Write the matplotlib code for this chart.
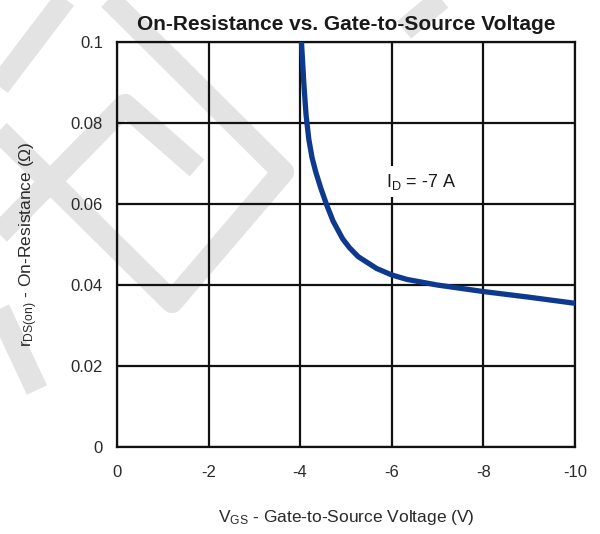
import matplotlib
matplotlib.use("Agg")
import matplotlib.pyplot as plt

# Data (I_D = -7 A)
vgs = [-4.03, -4.08, -4.13, -4.19, -4.26, -4.34, -4.45, -4.58, -4.72, -4.93,
       -5.08, -5.27, -5.67, -6.00, -6.33, -7.00, -8.00, -9.00, -10.0]
rds = [0.100, 0.090, 0.082, 0.076, 0.0715, 0.068, 0.064, 0.0598, 0.0558, 0.0514,
       0.0492, 0.0470, 0.0441, 0.0425, 0.0414, 0.0400, 0.0384, 0.0370, 0.0355]

x_ticks = [0, -2, -4, -6, -8, -10]
y_ticks = [0, 0.02, 0.04, 0.06, 0.08, 0.1]
y_tick_labels = ["0", "0.02", "0.04", "0.06", "0.08", "0.1"]

# light grey watermark strokes (figure pixels, y down)
watermark = [
    [(72, -10), (-10, 98)],
    [(100, -10), (283, 172), (172, 302), (-10, 122)],
    [(-10, 243), (125, 105), (197, 168)],
    [(-10, 290), (37, 390)],
    [(452, -10), (404, 30)],
]

plt.rcParams["font.family"] = ["Liberation Sans", "DejaVu Sans"]
plt.rcParams["mathtext.fontset"] = "custom"
plt.rcParams["mathtext.rm"] = "Liberation Sans"
plt.rcParams["mathtext.it"] = "Liberation Sans"

fig = plt.figure(figsize=(6.0, 5.34), dpi=100)

# background layer for the watermark
bg = fig.add_axes([0, 0, 1, 1], zorder=0)
bg.set_xlim(0, 600)
bg.set_ylim(534, 0)
bg.axis("off")
for path in watermark:
    xs = [p[0] for p in path]
    ys = [p[1] for p in path]
    bg.plot(xs, ys, color="#e3e3e3", lw=16, solid_joinstyle="round",
            solid_capstyle="butt")

ax = fig.add_axes([0.195, 0.163, 0.763, 0.758], zorder=1)
ax.set_facecolor("none")

ax.plot(vgs, rds, color="#0d3a8e", lw=3.8, zorder=3, solid_joinstyle="round")

ax.set_xlim(0, -10)
ax.set_ylim(0, 0.1)
ax.set_xticks(x_ticks)
ax.set_xticklabels([str(t) for t in x_ticks])
ax.set_yticks(y_ticks)
ax.set_yticklabels(y_tick_labels)
ax.tick_params(length=0, labelsize=12, labelcolor="#2a2a2a")
ax.tick_params(axis="x", pad=13)
ax.tick_params(axis="y", pad=10)

ax.grid(True, color="#111111", lw=1.6, zorder=1)
ax.set_axisbelow(True)
for s in ax.spines.values():
    s.set_color("#111111")
    s.set_linewidth(1.6)

ax.set_title("On-Resistance vs. Gate-to-Source Voltage", fontsize=15,
             fontweight="bold", color="#1a1a1a", pad=9)
ax.set_xlabel(r"V$_{\mathrm{GS}}$ - Gate-to-Source Voltage (V)", fontsize=12.5,
              color="#2a2a2a")
ax.xaxis.set_label_coords(0.5, -0.152)
ax.set_ylabel(r"r$_{\mathrm{DS(on)}}$ - On-Resistance ($\Omega$)", fontsize=12.5,
              color="#2a2a2a")
ax.yaxis.set_label_coords(-0.168, 0.5)

ax.text(-6.65, 0.0655, r"I$_{\mathrm{D}}$ = -7 A", fontsize=13, color="#1a1a1a",
        ha="center", va="center", zorder=2,
        bbox=dict(facecolor="white", edgecolor="none", pad=4))

fig.savefig("out.png", dpi=100)
